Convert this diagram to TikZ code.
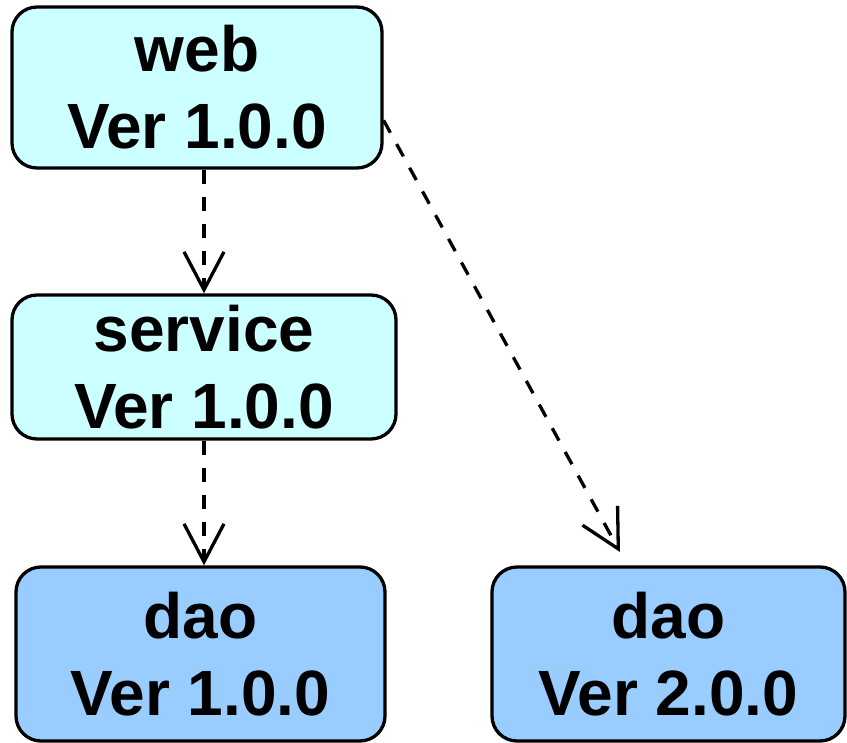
\documentclass[tikz,border=0pt]{standalone}
\usepackage{fontspec}
\setmainfont{Liberation Sans}
\usetikzlibrary{arrows.meta,calc}
\definecolor{lightcyan}{HTML}{CCFFFF}
\definecolor{lightblue}{HTML}{99CCFF}
\begin{document}
\begin{tikzpicture}[x=1pt,y=-1pt,
  box/.style={draw=black, line width=3.3pt, rounded corners=25pt, align=center,
    inner sep=0pt, font=\fontsize{64}{77}\selectfont\bfseries},
  dep/.style={line width=3.3pt, dash pattern=on 14pt off 13pt,
    -{Straight Barb[length=38pt,width=40pt,line width=3.3pt]}}]
\useasboundingbox (0,0) rectangle (847,743);
\node[box, fill=lightcyan, minimum width=370pt, minimum height=161pt] (web) at (197,87.5) {web\\Ver 1.0.0};
\node[box, fill=lightcyan, minimum width=384pt, minimum height=144pt] (service) at (204,367) {service\\Ver 1.0.0};
\node[box, fill=lightblue, minimum width=369pt, minimum height=174pt] (dao1) at (200.5,654) {dao\\Ver 1.0.0};
\node[box, fill=lightblue, minimum width=353pt, minimum height=174pt] (dao2) at (668.5,654) {dao\\Ver 2.0.0};
\coordinate (tip2) at (620,552);
\draw[dep] (web.south -| service.north) -- (service.north);
\draw[dep] (service.south) -- (service.south |- dao1.north);
\draw[dep] (web.-10.3) -- (tip2);
\end{tikzpicture}
\end{document}
